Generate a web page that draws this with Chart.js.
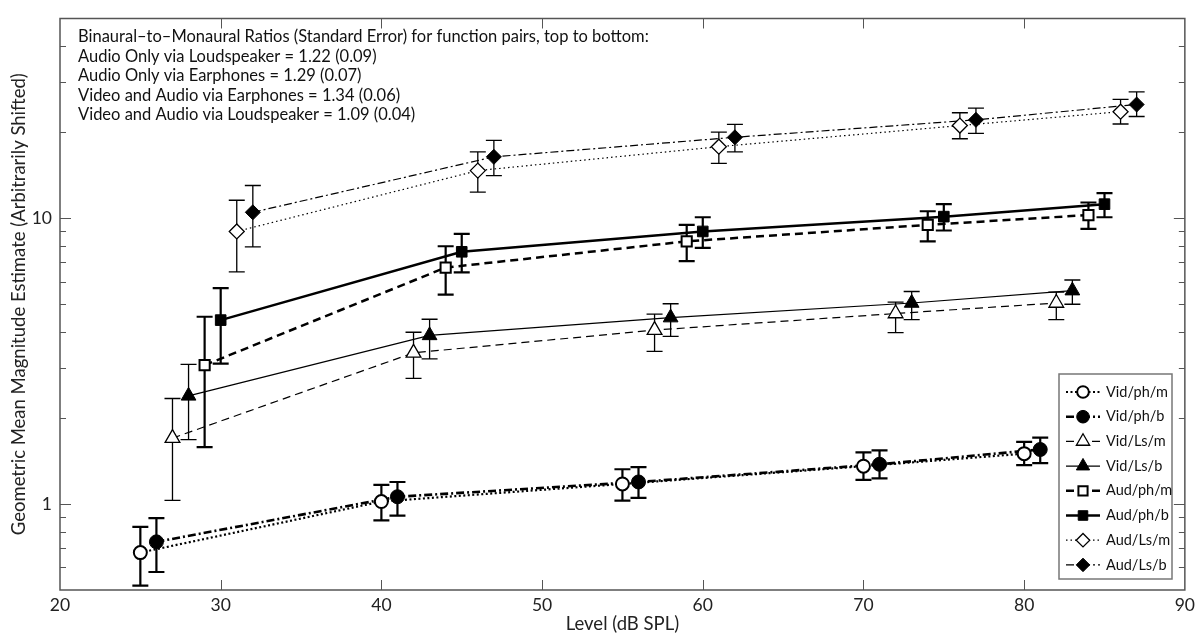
<!DOCTYPE html>
<html>
<head>
<meta charset="utf-8">
<script src="https://cdn.jsdelivr.net/npm/chart.js@4.4.0/dist/chart.umd.min.js"></script>
<style>
  body { margin: 0; background: #fff; }
  #wrap { width: 1200px; height: 633px; }
</style>
</head>
<body>
<div id="wrap"><canvas id="myChart"></canvas></div>
<script>
// values (level in dB SPL, geometric mean + error bar ends)
const vidPhM_level = [25, 40, 55, 70, 80];
const vidPhM_mean  = [0.676, 1.02, 1.175, 1.356, 1.50];
const vidPhM_low   = [0.518, 0.876, 1.027, 1.214, 1.367];
const vidPhM_high  = [0.831, 1.166, 1.323, 1.515, 1.65];

const vidPhB_level = [26, 41, 56, 71, 81];
const vidPhB_mean  = [0.737, 1.06, 1.194, 1.377, 1.551];
const vidPhB_low   = [0.578, 0.911, 1.051, 1.23, 1.39];
const vidPhB_high  = [0.892, 1.194, 1.345, 1.54, 1.707];

const vidLsM_level = [27, 42, 57, 72, 82];
const vidLsM_mean  = [1.70, 3.38, 4.06, 4.64, 5.05];
const vidLsM_low   = [1.03, 2.75, 3.42, 3.98, 4.42];
const vidLsM_high  = [2.34, 3.99, 4.62, 5.09, 5.51];

const vidLsB_level = [28, 43, 58, 73, 83];
const vidLsB_mean  = [2.39, 3.89, 4.49, 5.05, 5.58];
const vidLsB_low   = [1.68, 3.22, 3.86, 4.42, 5.0];
const vidLsB_high  = [3.08, 4.43, 5.02, 5.54, 6.08];

const audPhM_level = [29, 44, 59, 74, 84];
const audPhM_mean  = [3.06, 6.72, 8.30, 9.48, 10.26];
const audPhM_low   = [1.58, 5.40, 7.08, 8.30, 9.18];
const audPhM_high  = [4.52, 7.98, 9.48, 10.58, 11.35];

const audPhB_level = [30, 45, 60, 75, 85];
const audPhB_mean  = [4.40, 7.63, 8.99, 10.13, 11.2];
const audPhB_low   = [3.10, 6.46, 7.88, 9.06, 10.08];
const audPhB_high  = [5.69, 8.81, 10.08, 11.2, 12.25];

const audLsM_level = [31, 46, 61, 76, 86];
const audLsM_mean  = [8.99, 14.68, 17.8, 21.1, 23.6];
const audLsM_low   = [6.49, 12.35, 15.55, 18.97, 21.37];
const audLsM_high  = [11.56, 17.06, 20.0, 23.4, 26.06];

const audLsB_level = [32, 47, 62, 77, 87];
const audLsB_mean  = [10.49, 16.4, 19.2, 22.1, 25.0];
const audLsB_low   = [7.94, 14.1, 17.06, 19.8, 22.7];
const audLsB_high  = [13.02, 18.72, 21.3, 24.3, 27.7];

const xTicks = [20, 30, 40, 50, 60, 70, 80, 90];
const yLabelled = [1, 10];
const yMinor = [0.6, 0.7, 0.8, 0.9, 2, 3, 4, 5, 6, 7, 8, 9, 20, 30, 40];

const noteLines = [
  'Binaural\u2013to\u2013Monaural Ratios (Standard Error) for function pairs, top to bottom:',
  'Audio Only via Loudspeaker = 1.22 (0.09)',
  'Audio Only via Earphones = 1.29 (0.07)',
  'Video and Audio via Earphones = 1.34 (0.06)',
  'Video and Audio via Loudspeaker = 1.09 (0.04)'
];

const FONT = 'Lato, "Open Sans", sans-serif';

let points = (lv, m, lo, hi) => lv.map((x, i) => ({ x: x, y: m[i], lo: lo[i], hi: hi[i] }));

let series = (label, data, style, fill, radius, bw, lineW, dash, errW) => ({
    label: label,
    data: data,
    showLine: true,
    borderColor: '#000',
    borderWidth: lineW,
    borderDash: dash,
    pointStyle: style,
    pointRadius: radius,
    pointHoverRadius: radius,
    pointBackgroundColor: fill,
    pointBorderColor: '#000',
    pointBorderWidth: bw,
    errWidth: errW
});

const datasets = [
    series('Vid/ph/m', points(vidPhM_level, vidPhM_mean, vidPhM_low, vidPhM_high), 'circle', '#fff', 6.5, 2, 2.2, [2, 2.5], 2.2),
    series('Vid/ph/b', points(vidPhB_level, vidPhB_mean, vidPhB_low, vidPhB_high), 'circle', '#000', 7, 1, 2.6, [8, 3, 2, 3], 2.2),
    series('Vid/Ls/m', points(vidLsM_level, vidLsM_mean, vidLsM_low, vidLsM_high), 'triangle', '#fff', 8.5, 1.3, 1.2, [8, 5], 1.3),
    series('Vid/Ls/b', points(vidLsB_level, vidLsB_mean, vidLsB_low, vidLsB_high), 'triangle', '#000', 8.5, 1, 1.2, [], 1.3),
    series('Aud/ph/m', points(audPhM_level, audPhM_mean, audPhM_low, audPhM_high), 'rect', '#fff', 7.2, 2, 2.5, [8, 5], 2.2),
    series('Aud/ph/b', points(audPhB_level, audPhB_mean, audPhB_low, audPhB_high), 'rect', '#000', 7.5, 1, 2.5, [], 2.2),
    series('Aud/Ls/m', points(audLsM_level, audLsM_mean, audLsM_low, audLsM_high), 'rectRot', '#fff', 7.5, 1.3, 1.2, [1.5, 3], 1.3),
    series('Aud/Ls/b', points(audLsB_level, audLsB_mean, audLsB_low, audLsB_high), 'rectRot', '#000', 7.5, 1, 1.2, [8, 3, 2, 3], 1.3)
];

let markerPath = (ctx, style, x, y, r) => {
    ctx.beginPath();
    if (style === 'circle') {
        ctx.arc(x, y, r, 0, Math.PI * 2);
    } else if (style === 'triangle') {
        for (let k = 0; k < 3; k++) {
            let a = k * 2 * Math.PI / 3;
            let px = x + Math.sin(a) * r, py = y - Math.cos(a) * r;
            k === 0 ? ctx.moveTo(px, py) : ctx.lineTo(px, py);
        }
        ctx.closePath();
    } else if (style === 'rect') {
        let s = r * Math.SQRT1_2;
        ctx.rect(x - s, y - s, 2 * s, 2 * s);
    } else {
        ctx.moveTo(x - r, y); ctx.lineTo(x, y - r); ctx.lineTo(x + r, y); ctx.lineTo(x, y + r);
        ctx.closePath();
    }
};

const errorBars = {
    id: 'errorBars',
    beforeDatasetsDraw(chart) {
        const ctx = chart.ctx, xs = chart.scales.x, ys = chart.scales.y;
        ctx.save();
        ctx.strokeStyle = '#000';
        ctx.setLineDash([]);
        chart.data.datasets.forEach(ds => {
            ctx.lineWidth = ds.errWidth;
            ds.data.forEach(p => {
                let x = xs.getPixelForValue(p.x);
                let y1 = ys.getPixelForValue(p.lo), y2 = ys.getPixelForValue(p.hi);
                ctx.beginPath();
                ctx.moveTo(x, y1); ctx.lineTo(x, y2);
                ctx.moveTo(x - 8, y1); ctx.lineTo(x + 8, y1);
                ctx.moveTo(x - 8, y2); ctx.lineTo(x + 8, y2);
                ctx.stroke();
            });
        });
        ctx.restore();
    }
};

const frameAndExtras = {
    id: 'frameAndExtras',
    afterDraw(chart) {
        const ctx = chart.ctx, a = chart.chartArea, xs = chart.scales.x, ys = chart.scales.y;
        ctx.save();
        ctx.setLineDash([]);
        ctx.strokeStyle = '#555';

        // inward ticks on all four sides
        ctx.lineWidth = 1;
        ctx.beginPath();
        xTicks.slice(1, -1).forEach(v => {
            let x = Math.round(xs.getPixelForValue(v)) + 0.5;
            ctx.moveTo(x, a.bottom); ctx.lineTo(x, a.bottom - 10);
            ctx.moveTo(x, a.top); ctx.lineTo(x, a.top + 10);
        });
        yLabelled.forEach(v => {
            let y = Math.round(ys.getPixelForValue(v)) + 0.5;
            ctx.moveTo(a.left, y); ctx.lineTo(a.left + 11, y);
            ctx.moveTo(a.right, y); ctx.lineTo(a.right - 11, y);
        });
        yMinor.forEach(v => {
            let y = Math.round(ys.getPixelForValue(v)) + 0.5;
            ctx.moveTo(a.left, y); ctx.lineTo(a.left + 6, y);
            ctx.moveTo(a.right, y); ctx.lineTo(a.right - 6, y);
        });
        ctx.stroke();

        ctx.lineWidth = 1.5;
        ctx.strokeRect(a.left, a.top, a.right - a.left, a.bottom - a.top);

        // ratios note
        ctx.fillStyle = '#111';
        ctx.font = '16.5px ' + FONT;
        ctx.textBaseline = 'middle';
        ctx.textAlign = 'left';
        noteLines.forEach((t, i) => ctx.fillText(t, 78, 37 + i * 19.5));

        // legend box
        let lx = 1059, ly = 374, lw = 113, lh = 205;
        ctx.fillStyle = '#fff';
        ctx.fillRect(lx, ly, lw, lh);
        ctx.strokeStyle = '#777';
        ctx.lineWidth = 1.5;
        ctx.strokeRect(lx, ly, lw, lh);
        ctx.font = '14.5px ' + FONT;
        chart.data.datasets.forEach((ds, i) => {
            let y = 392 + i * 24.7;
            ctx.strokeStyle = '#000';
            ctx.lineWidth = ds.borderWidth;
            ctx.setLineDash(ds.borderDash);
            ctx.beginPath();
            ctx.moveTo(1066, y); ctx.lineTo(1100, y);
            ctx.stroke();
            ctx.setLineDash([]);
            markerPath(ctx, ds.pointStyle, 1083, y, ds.pointRadius * 0.9);
            ctx.fillStyle = ds.pointBackgroundColor;
            ctx.fill();
            ctx.lineWidth = ds.pointBorderWidth;
            ctx.stroke();
            ctx.fillStyle = '#111';
            ctx.fillText(ds.label, 1106, y);
        });
        ctx.restore();
    }
};

const config = {
    type: 'scatter',
    data: { datasets: datasets },
    options: {
        responsive: true,
        maintainAspectRatio: false,
        animation: false,
        layout: { padding: { left: 0, top: 12, right: 14, bottom: 0 } },
        plugins: {
            legend: { display: false },
            tooltip: { enabled: false }
        },
        scales: {
            x: {
                type: 'linear',
                min: 20,
                max: 90,
                afterFit: s => { s.height = 43; },
                grid: { display: false, drawTicks: false },
                border: { display: false },
                ticks: {
                    stepSize: 10,
                    padding: 5,
                    color: '#222',
                    font: { family: FONT, size: 17.5 }
                },
                title: {
                    display: true,
                    text: 'Level (dB SPL)',
                    color: '#222',
                    padding: { top: 0, bottom: 0 },
                    font: { family: FONT, size: 18.5, lineHeight: 1.0 }
                }
            },
            y: {
                type: 'logarithmic',
                min: 0.5,
                max: 50,
                afterFit: s => { s.width = 60; },
                grid: { display: false, drawTicks: false },
                border: { display: false },
                ticks: {
                    autoSkip: false,
                    padding: 8,
                    color: '#222',
                    font: { family: FONT, size: 17.5 },
                    callback: v => (v === 1 ? '1' : v === 10 ? '10' : '')
                },
                title: {
                    display: true,
                    text: 'Geometric Mean Magnitude Estimate (Arbitrarily Shifted)',
                    color: '#222',
                    padding: { top: 8, bottom: 0 },
                    font: { family: FONT, size: 18.5, lineHeight: 1.2 }
                }
            }
        }
    },
    plugins: [errorBars, frameAndExtras]
};

const chart = new Chart(document.getElementById('myChart'), config);
</script>
</body>
</html>
